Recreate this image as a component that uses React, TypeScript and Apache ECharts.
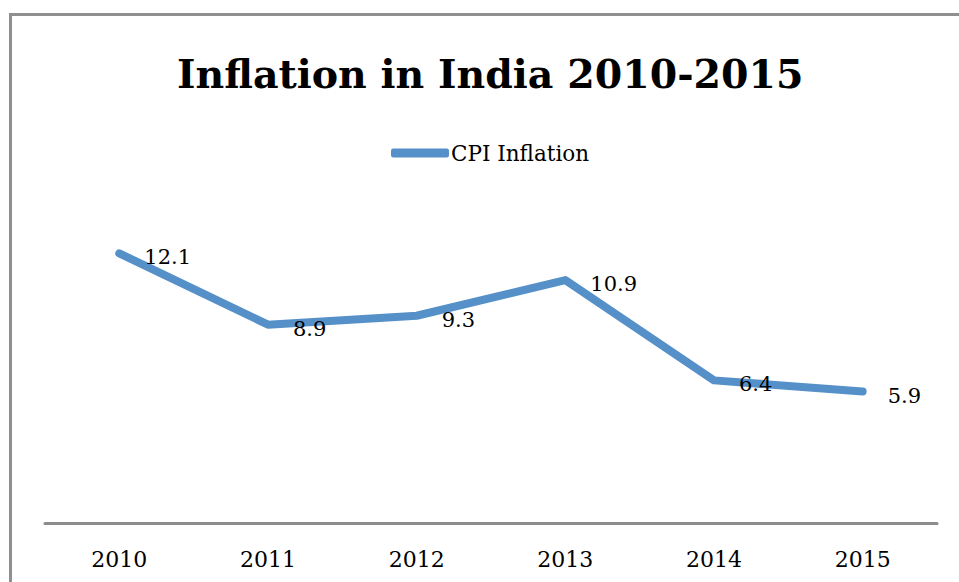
import React, { useEffect, useRef } from "react";
import * as echarts from "echarts";

const categories = ["2010", "2011", "2012", "2013", "2014", "2015"];
const cpiInflation = [12.1, 8.9, 9.3, 10.9, 6.4, 5.9];
const seriesName = "CPI Inflation";
const titleText = "Inflation in India 2010-2015";

const FONT = "'DejaVu Serif', 'Liberation Serif', serif";
const LINE_COLOR = "#5590c8";

export default function App() {
  const ref = useRef<HTMLDivElement>(null);
  useEffect(() => {
    if (!ref.current) return;
    const chart = echarts.init(ref.current, null, { renderer: "svg" });
    chart.setOption({
      animation: false,
      backgroundColor: "#ffffff",
      title: {
        text: titleText,
        left: 172,
        top: 49,
        textStyle: { fontFamily: FONT, fontWeight: "bold", fontSize: 39.5, color: "#000" },
      },
      legend: {
        data: [seriesName],
        left: 386,
        top: 137,
        icon: "roundRect",
        itemWidth: 58,
        itemHeight: 9,
        itemGap: 4,
        itemStyle: { color: LINE_COLOR, opacity: 1 },
        textStyle: { fontFamily: FONT, fontSize: 21.5, color: "#000", padding: [0, 0, 0, -3] },
      },
      grid: { left: 45, right: 22, top: 211, bottom: 59 },
      xAxis: {
        type: "category",
        data: categories,
        boundaryGap: true,
        axisLine: { show: true, lineStyle: { color: "#8c8c8c", width: 3 } },
        axisTick: { show: false },
        axisLabel: { fontFamily: FONT, fontSize: 22, color: "#000", margin: 25 },
      },
      yAxis: {
        type: "value",
        min: 0,
        max: 14,
        show: false,
        splitLine: { show: false },
      },
      series: [
        {
          name: seriesName,
          type: "line",
          data: cpiInflation,
          symbol: "circle",
          symbolSize: 2,
          showSymbol: true,
          itemStyle: { color: "rgba(0,0,0,0)" },
          lineStyle: { color: LINE_COLOR, width: 8, cap: "round", join: "round" },
          label: {
            show: true,
            position: "right",
            distance: 24,
            offset: [0, 4],
            fontFamily: FONT,
            fontSize: 21,
            color: "#000",
          },
        },
      ],
      graphic: [
        {
          type: "rect",
          shape: { x: 10.5, y: 14.5, width: 1000, height: 700 },
          style: { fill: "none", stroke: "#8f8f8f", lineWidth: 3 },
          silent: true,
        },
      ],
    });
    return () => chart.dispose();
  }, []);
  return (
    <div
      ref={ref}
      style={{ position: "fixed", left: 0, top: 0, width: 959, height: 582 }}
    />
  );
}
